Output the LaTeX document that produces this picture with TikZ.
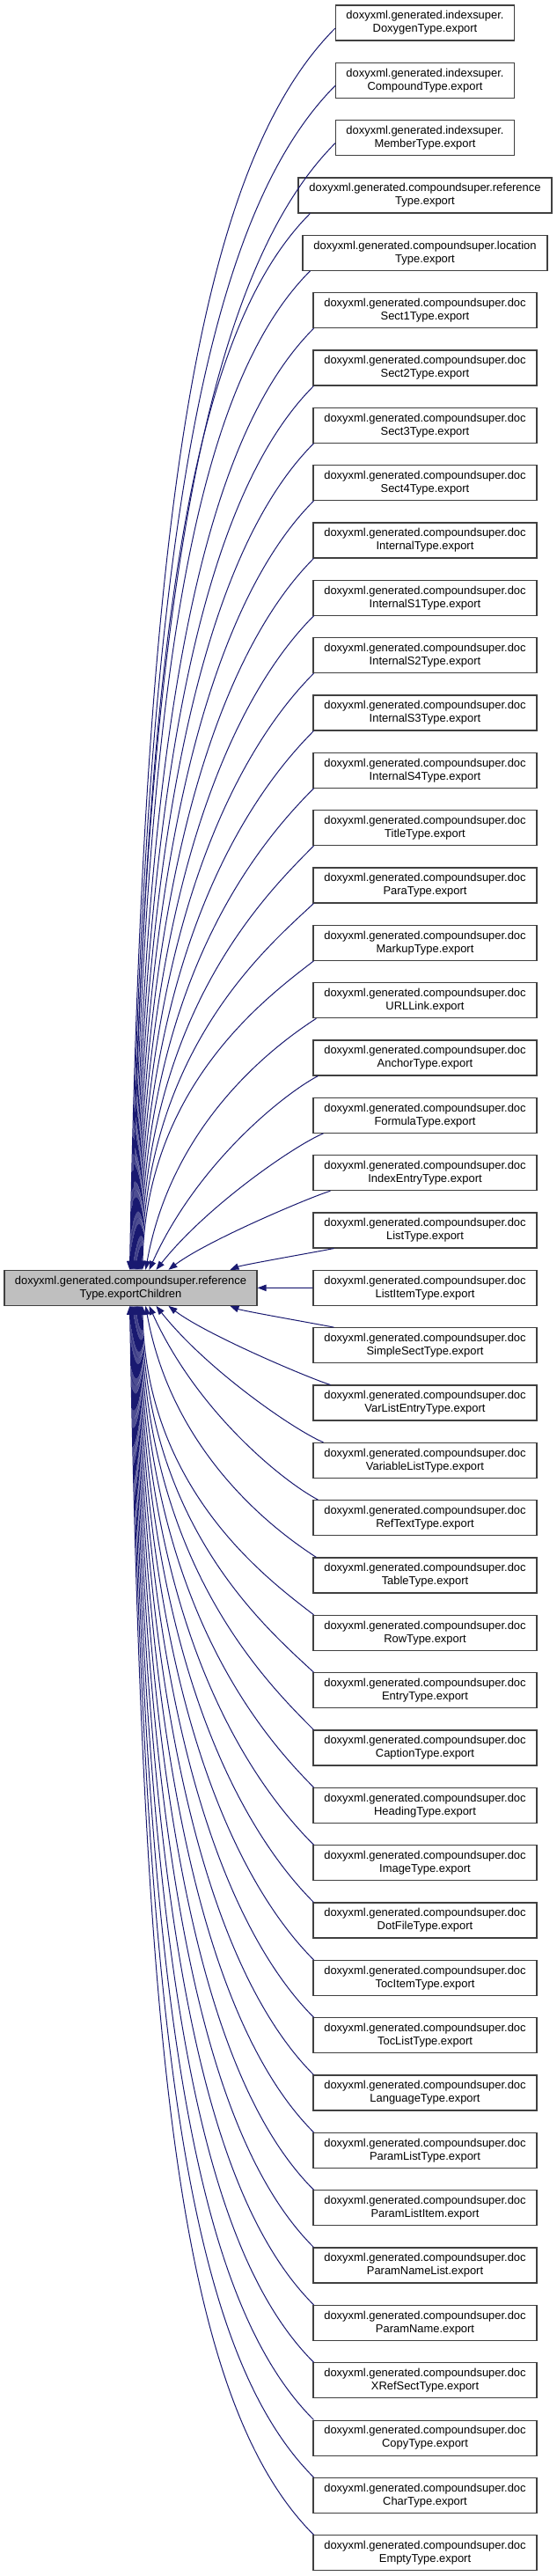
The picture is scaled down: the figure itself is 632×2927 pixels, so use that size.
\documentclass[tikz,border=0pt]{standalone}
\usepackage{fontspec}
\setmainfont{Liberation Sans}
\usetikzlibrary{arrows.meta,calc}
\definecolor{edgeblue}{HTML}{191970}
\definecolor{maingrey}{HTML}{BFBFBF}
\definecolor{boxline}{HTML}{404040}
\newcommand{\docl}[1]{doxyxml.generated.compoundsuper.doc\\#1.export}
\tikzset{
  box/.style={draw=boxline, line width=0.8pt, fill=white, minimum height=30pt, inner sep=0pt, align=center, font=\fontsize{9.7}{11.25}\selectfont},
  idxbox/.style={box, minimum width=152.25pt},
  refbox/.style={box, minimum width=216pt},
  locbox/.style={box, minimum width=208.5pt},
  docbox/.style={box, minimum width=190.5pt},
  mainbox/.style={box, fill=maingrey, minimum width=215.25pt},
  edge/.style={draw=edgeblue, line width=0.75pt, -{Triangle[length=7.5pt,width=5.5pt]}}
}
\begin{document}
\begin{tikzpicture}[x=0.75pt,y=-0.75pt]
\useasboundingbox (0,0) rectangle (632,2927);
\node[mainbox] (main) at (148.5,1463.333) {doxyxml.generated.compoundsuper.reference\\Type.exportChildren};
\node[idxbox] (n1) at (483,26) {doxyxml.generated.indexsuper.\\DoxygenType.export};
\node[idxbox] (n2) at (483,91.333) {doxyxml.generated.indexsuper.\\CompoundType.export};
\node[idxbox] (n3) at (483,156.667) {doxyxml.generated.indexsuper.\\MemberType.export};
\node[refbox] (n4) at (483,222) {doxyxml.generated.compoundsuper.reference\\Type.export};
\node[locbox] (n5) at (483,287.333) {doxyxml.generated.compoundsuper.location\\Type.export};
\foreach \k/\t in {6/Sect1Type,7/Sect2Type,8/Sect3Type,9/Sect4Type,10/InternalType,11/InternalS1Type,12/InternalS2Type,13/InternalS3Type,14/InternalS4Type,15/TitleType,16/ParaType,17/MarkupType,18/URLLink,19/AnchorType,20/FormulaType,21/IndexEntryType,22/ListType,23/ListItemType,24/SimpleSectType,25/VarListEntryType,26/VariableListType,27/RefTextType,28/TableType,29/RowType,30/EntryType,31/CaptionType,32/HeadingType,33/ImageType,34/DotFileType,35/TocItemType,36/TocListType,37/LanguageType,38/ParamListType,39/ParamListItem,40/ParamNameList,41/ParamName,42/XRefSectType,43/CopyType,44/CharType,45/EmptyType}{
  \pgfmathsetmacro{\yyc}{26+65.33333*(\k-1)}
  \node[docbox] (n\k) at (483,\yyc) {\docl{\t}};
}
\draw[edge] (n23.west) -- (main.east);
\foreach \k in {1,...,22,24,25,...,45}{
  \pgfmathtruncatemacro{\nn}{abs(\k-23)}
  \pgfmathtruncatemacro{\sg}{\k<23 ? -1 : 1}
  \pgfmathsetmacro{\yyc}{26+65.33333*(\k-1)}
  \ifnum\k<4
    \def\anc{west}\def\sdx{0}\def\sdy{6}\def\lx{381.5}\def\ay{0}
  \else\ifnum\k=4
    \def\anc{south west}\def\sdx{14}\def\sdy{0}\def\lx{339}\def\ay{20}
  \else\ifnum\k=5
    \def\anc{south west}\def\sdx{9}\def\sdy{0}\def\lx{344}\def\ay{20}
  \else
    \pgfmathsetmacro{\sdx}{\nn==1 ? 24 : (\nn==2 ? 20 : (\nn==3 ? 12 : (\nn==4 ? 6 : (\nn==5 ? 4 : 1))))}
    \def\sdy{0}\def\lx{356}
    \ifnum\k<23 \def\anc{south west}\def\ay{20}\else\def\anc{north west}\def\ay{-20}\fi
  \fi\fi\fi
  \ifnum\k<23 \def\eanc{north west}\else\def\eanc{south west}\fi
  \pgfmathsetmacro{\ssx}{\lx+\sdx}
  \pgfmathsetmacro{\ssy}{\yyc+\ay+\sdy}
  \pgfmathsetmacro{\eyy}{1463.333+20*\sg}
  \pgfmathsetmacro{\exx}{\nn==1 ? 262 : (\nn==2 ? 192 : (\nn==3 ? 178 : (\nn==4 ? 170 : (\nn==5 ? 166 : 148+0.9*(22-\nn)))))}
  \pgfmathsetmacro{\hh}{abs(\eyy-\ssy)}
  \pgfmathsetmacro{\aal}{min(45,8+5*\nn)}
  \pgfmathsetmacro{\bb}{min(89,10+14*\nn)}
  \pgfmathsetmacro{\kkk}{0.15*\hh+12}
  \pgfmathsetmacro{\mmm}{0.6*\hh}
  \pgfmathsetmacro{\cax}{\ssx-\kkk*cos(\aal)}
  \pgfmathsetmacro{\cay}{\ssy-\sg*\kkk*sin(\aal)}
  \pgfmathsetmacro{\cbx}{\exx+\mmm*cos(\bb)}
  \pgfmathsetmacro{\cby}{\eyy+\sg*\mmm*sin(\bb)}
  \pgfmathsetmacro{\exo}{\exx-5}
  \draw[edge] ($(n\k.\anc)+(\sdx,\sdy)$) .. controls (\cax,\cay) and (\cbx,\cby) .. ($(main.\eanc)+(\exo,0)$);
}
\end{tikzpicture}
\end{document}
